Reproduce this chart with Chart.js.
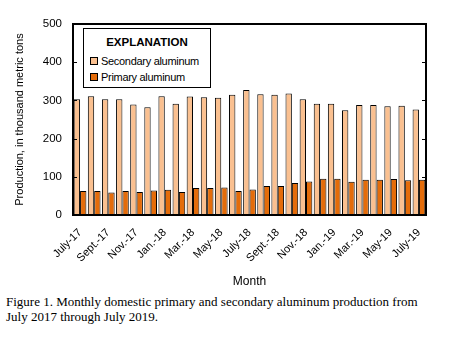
<!DOCTYPE html>
<html>
<head>
<meta charset="utf-8">
<script src="https://cdn.jsdelivr.net/npm/chart.js@4"></script>
<style>
body { margin: 0; background: #fff; }
#wrap { position: relative; width: 449px; height: 337px; }
#chart { position: absolute; left: 0; top: 0; }
#legend {
    position: absolute; left: 83px; top: 28px; width: 126px; height: 58px;
    border: 1.5px solid #000; background: #fff;
    font-family: "Liberation Sans", Arial, sans-serif; font-size: 11px; letter-spacing: -0.3px; color: #000;
}
#legend .ttl { text-align: center; font-weight: bold; font-size: 11.5px; letter-spacing: 0; margin-top: 7px; height: 17px; }
#legend .item { height: 16px; line-height: 16px; padding-left: 6px; white-space: nowrap; }
#legend .sw { display: inline-block; width: 6px; height: 6px; border: 1px solid #000; margin-right: 3px; vertical-align: 0px; }
#caption {
    position: absolute; left: 6px; top: 294px; width: 440px;
    font-family: "Liberation Serif", "Times New Roman", serif; font-size: 13px; line-height: 15px; color: #000;
}
</style>
</head>
<body>
<div id="wrap">
    <canvas id="chart" width="449" height="292"></canvas>
    <div id="legend"></div>
    <div id="caption">Figure 1. Monthly domestic primary and secondary aluminum production from<br>July 2017 through July 2019.</div>
</div>
<script>
// months July 2017 - July 2019
var months = ['July-17', 'Aug.-17', 'Sept.-17', 'Oct.-17', 'Nov.-17', 'Dec.-17', 'Jan.-18', 'Feb.-18', 'Mar.-18', 'Apr.-18', 'May-18', 'June-18',
    'July-18', 'Aug.-18', 'Sept.-18', 'Oct.-18', 'Nov.-18', 'Dec.-18', 'Jan.-19', 'Feb.-19', 'Mar.-19', 'Apr.-19', 'May-19', 'June-19', 'July-19'];
var secondary = [303, 311, 303, 303, 289, 282, 311, 291, 310, 308, 307, 315, 327, 316, 315, 318, 303, 291, 291, 274, 288, 288, 285, 286, 276];
var primary = [63, 63, 59, 63, 60, 64, 66, 60, 71, 71, 72, 63, 67, 76, 76, 84, 88, 95, 95, 87, 92, 92, 94, 91, 92];
var seriesNames = ['Secondary aluminum', 'Primary aluminum'];
var seriesColors = ['#FAC090', '#E46C0A'];
var yTicks = [0, 100, 200, 300, 400, 500];

var fontSans = '"Liberation Sans", Arial, sans-serif';

// legend box (html)
var legendHtml = '<div class="ttl">EXPLANATION</div>';
for (var i = 0; i < seriesNames.length; i++) {
    legendHtml += '<div class="item"><span class="sw" style="background:' + seriesColors[i] + '"></span>' + seriesNames[i] + '</div>';
}
document.getElementById('legend').innerHTML = legendHtml;

// frame round the plot + inside tick marks on both sides
var framePlugin = {
    id: 'frame',
    afterDatasetsDraw: function (chart) {
        var ctx = chart.ctx, a = chart.chartArea, y = chart.scales.y;
        ctx.save();
        ctx.strokeStyle = '#000';
        ctx.lineWidth = 1;
        y.ticks.forEach(function (t) {
            var py = Math.round(y.getPixelForValue(t.value)) + 0.5;
            ctx.beginPath();
            ctx.moveTo(a.left, py); ctx.lineTo(a.left + 4, py);
            ctx.moveTo(a.right, py); ctx.lineTo(a.right - 4, py);
            ctx.stroke();
        });
        ctx.lineWidth = 2;
        ctx.strokeRect(a.left, a.top, a.right - a.left, a.bottom - a.top);
        ctx.restore();
    }
};

var data = {
    labels: months,
    datasets: [{
        label: seriesNames[0],
        data: secondary,
        backgroundColor: seriesColors[0],
        borderColor: '#000',
        borderWidth: 1,
    }, {
        label: seriesNames[1],
        data: primary,
        backgroundColor: seriesColors[1],
        borderColor: '#000',
        borderWidth: 1,
    }]
};
var option = {
    responsive: false,
    animation: false,
    layout: { padding: { top: 24, right: 23, bottom: 2, left: 0 } },
    datasets: { bar: { categoryPercentage: 0.9, barPercentage: 1.0 } },
    scales: {
        x: {
            grid: { display: false, drawTicks: false },
            border: { display: false },
            ticks: {
                autoSkip: false,
                maxRotation: 45,
                minRotation: 45,
                padding: 11,
                color: '#000',
                font: { family: fontSans, size: 11 },
                callback: function (v, i) { return i % 2 == 0 ? months[i] : ''; }
            },
            title: { display: true, text: 'Month', color: '#000', font: { family: fontSans, size: 12 }, padding: { top: 0, bottom: 1 } },
            afterFit: function (s) { s.height = 75; }
        },
        y: {
            min: 0,
            max: 500,
            afterBuildTicks: function (s) { s.ticks = yTicks.map(function (v) { return { value: v }; }); },
            grid: { display: false, drawTicks: false },
            border: { display: false },
            ticks: { padding: 11, color: '#000', font: { family: fontSans, size: 11.5 } },
            title: { display: true, text: 'Production, in thousand metric tons', color: '#000', font: { family: fontSans, size: 11 }, padding: { top: 13, bottom: 0 } },
            afterFit: function (s) { s.width = 73; }
        }
    },
    plugins: {
        legend: false,
        tooltip: { enabled: false }
    }
};
var graphique = new Chart(document.getElementById('chart'), { type: 'bar', data: data, options: option, plugins: [framePlugin] });
</script>
</body>
</html>
